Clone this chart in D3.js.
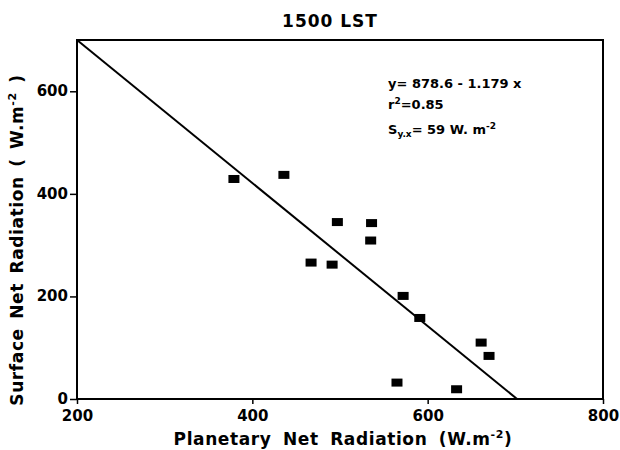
<!DOCTYPE html>
<html>
<head>
<meta charset="utf-8">
<script src="https://cdn.jsdelivr.net/npm/d3@7"></script>
<style>
  body { margin: 0; background: #fff; }
  text { font-family: "DejaVu Sans", sans-serif; font-weight: bold; fill: #000; }
</style>
</head>
<body>
<svg id="chart" width="620" height="450"></svg>
<script>
// data
const planetary = [379, 436, 497, 536, 535, 467, 491, 572, 591, 661, 670, 565, 633];
const surface   = [429, 437, 345, 343, 309, 266, 262, 201, 158, 110, 84, 32, 19];
const xTicks = [200, 400, 600, 800];
const yTicks = [0, 200, 400, 600];
// regression line as drawn (endpoints)
const fitX = [200, 702];
const fitY = [700, 0];

const svg = d3.select("#chart");
const pLeft = 77, pRight = 603, pTop = 40, pBottom = 399;

const x = d3.scaleLinear().domain([200, 800]).range([pLeft, pRight]);
const y = d3.scaleLinear().domain([0, 700]).range([pBottom, pTop]);

// frame
svg.append("rect")
    .attr("x", pLeft).attr("y", pTop)
    .attr("width", pRight - pLeft).attr("height", pBottom - pTop)
    .attr("fill", "none").attr("stroke", "#000").attr("stroke-width", 2);

// axes
let xAxis = svg.append("g")
    .attr("transform", `translate(0,${pBottom})`)
    .call(d3.axisBottom(x).tickValues(xTicks).tickSize(5).tickPadding(5));
let yAxis = svg.append("g")
    .attr("transform", `translate(${pLeft},0)`)
    .call(d3.axisLeft(y).tickValues(yTicks).tickSize(7).tickPadding(2));

[xAxis, yAxis].forEach(a => {
    a.select(".domain").remove();
    a.selectAll("line").attr("stroke", "#000").attr("stroke-width", 1.5);
    a.selectAll("text").style("font-size", "15px").style("font-family", "DejaVu Sans").style("font-weight", "bold");
});
xAxis.selectAll("text").attr("dy", "0.8em");
yAxis.selectAll("text").attr("dy", "0.3em");

// fit line
svg.append("line")
    .attr("x1", x(fitX[0])).attr("y1", y(fitY[0]))
    .attr("x2", x(fitX[1])).attr("y2", y(fitY[1]))
    .attr("stroke", "#000").attr("stroke-width", 2);

// points
svg.selectAll(".pt")
    .data(planetary.map((p, i) => ({p: p, s: surface[i]})))
    .enter()
    .append("rect")
    .attr("class", "pt")
    .attr("x", d => x(d.p) - 5.5)
    .attr("y", d => y(d.s) - 4)
    .attr("width", 11)
    .attr("height", 8)
    .attr("fill", "#000");

// title
svg.append("text")
    .attr("x", 330).attr("y", 27)
    .attr("text-anchor", "middle")
    .style("font-size", "17px")
    .style("letter-spacing", "1px")
    .text("1500 LST");

// axis titles
let xl = svg.append("text")
    .attr("x", 343).attr("y", 445)
    .attr("text-anchor", "middle")
    .style("font-size", "17px")
    .style("letter-spacing", "0.6px")
    .style("word-spacing", "5px");
xl.append("tspan").text("Planetary Net Radiation (W.m");
xl.append("tspan").attr("dy", -7).style("font-size", "11px").text("-2");
xl.append("tspan").attr("dy", 7).text(")");

let yl = svg.append("text")
    .attr("transform", "translate(23,240) rotate(-90)")
    .attr("text-anchor", "middle")
    .style("font-size", "17px")
    .style("letter-spacing", "0.6px")
    .style("word-spacing", "3px");
yl.append("tspan").text("Surface Net Radiation ( W.m");
yl.append("tspan").attr("dy", -7).style("font-size", "11px").text("-2");
yl.append("tspan").attr("dy", 7).text(" )");

// annotation
const ann = svg.append("g").style("font-size", "13px");
ann.append("text").attr("x", 388).attr("y", 88).text("y= 878.6 - 1.179 x");
let r2 = ann.append("text").attr("x", 388).attr("y", 109);
r2.append("tspan").text("r");
r2.append("tspan").attr("dy", -5).style("font-size", "9px").text("2");
r2.append("tspan").attr("dy", 5).text("=0.85");
let sy = ann.append("text").attr("x", 388).attr("y", 134);
sy.append("tspan").text("S");
sy.append("tspan").attr("dy", 3).style("font-size", "9px").text("y.x");
sy.append("tspan").attr("dy", -3).text("= 59  W. m");
sy.append("tspan").attr("dy", -5).style("font-size", "9px").text("-2");
</script>
</body>
</html>
